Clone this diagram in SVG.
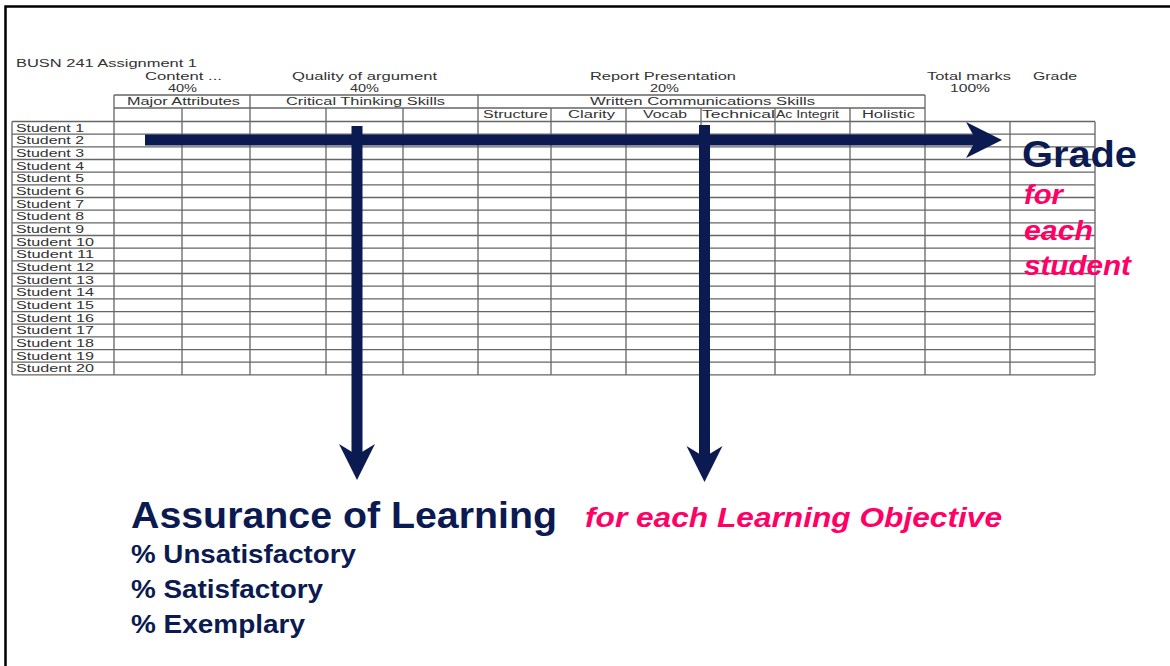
<svg xmlns="http://www.w3.org/2000/svg" width="1170" height="666" viewBox="0 0 1170 666">
<style>
.t{font-family:"Liberation Sans",Arial,sans-serif;font-size:10px;fill:#333}
.grid{fill:none;stroke:#666;stroke-width:1.3}
.navy{font-family:"Liberation Sans",Arial,sans-serif;font-weight:bold;fill:#0b1a50}
.pink{font-family:"Liberation Sans",Arial,sans-serif;font-weight:bold;font-style:italic;fill:#ff0066}
.arrow{fill:#0b1a50}
</style>
<rect width="1170" height="666" fill="#fff"/>
<path d="M5.5,666 V6.5 H1170" fill="none" stroke="#000" stroke-width="2.5"/>

<g id="table">
<path class="grid" d="M114,95 H925 M114,108 H925
M12,121.5 H1095 M12,134.2 H1095 M12,146.8 H1095 M12,159.5 H1095 M12,172.2 H1095 M12,184.9 H1095 M12,197.5 H1095 M12,210.2 H1095 M12,222.9 H1095 M12,235.5 H1095 M12,248.2 H1095 M12,260.9 H1095 M12,273.5 H1095 M12,286.2 H1095 M12,298.9 H1095 M12,311.6 H1095 M12,324.2 H1095 M12,336.9 H1095 M12,349.6 H1095 M12,362.2 H1095 M12,374.9 H1095
M12,121.5 V374.9 M114,95 V374.9 M182,108 V374.9 M250,95 V374.9 M326,108 V374.9 M403,108 V374.9 M478,95 V374.9 M551,108 V374.9 M626,108 V374.9 M701,108 V374.9 M775,108 V374.9 M850,108 V374.9 M925,95 V374.9 M1010,121.5 V374.9 M1095,121.5 V374.9"/>
<text class="t" x="16" y="67" textLength="181" lengthAdjust="spacingAndGlyphs">BUSN 241 Assignment 1</text>
<text class="t" x="145" y="80" textLength="77" lengthAdjust="spacingAndGlyphs">Content ...</text>
<text class="t" x="168" y="92" textLength="29" lengthAdjust="spacingAndGlyphs">40%</text>
<text class="t" x="292" y="80" textLength="145" lengthAdjust="spacingAndGlyphs">Quality of argument</text>
<text class="t" x="350" y="92" textLength="29" lengthAdjust="spacingAndGlyphs">40%</text>
<text class="t" x="590" y="80" textLength="146" lengthAdjust="spacingAndGlyphs">Report Presentation</text>
<text class="t" x="650" y="92" textLength="29" lengthAdjust="spacingAndGlyphs">20%</text>
<text class="t" x="927" y="80" textLength="84" lengthAdjust="spacingAndGlyphs">Total marks</text>
<text class="t" x="1033" y="80" textLength="44" lengthAdjust="spacingAndGlyphs">Grade</text>
<text class="t" x="950" y="92" textLength="40" lengthAdjust="spacingAndGlyphs">100%</text>
<text class="t" x="127" y="105" textLength="113" lengthAdjust="spacingAndGlyphs">Major Attributes</text>
<text class="t" x="286" y="105" textLength="159" lengthAdjust="spacingAndGlyphs">Critical Thinking Skills</text>
<text class="t" x="590" y="105" textLength="225" lengthAdjust="spacingAndGlyphs">Written Communications Skills</text>
<text class="t" x="483" y="118" textLength="65" lengthAdjust="spacingAndGlyphs">Structure</text>
<text class="t" x="568" y="118" textLength="47" lengthAdjust="spacingAndGlyphs">Clarity</text>
<text class="t" x="643" y="118" textLength="44" lengthAdjust="spacingAndGlyphs">Vocab</text>
<text class="t" x="702" y="118" textLength="73" lengthAdjust="spacingAndGlyphs">Technical</text>
<text class="t" x="776" y="118" textLength="63" lengthAdjust="spacingAndGlyphs">Ac Integrit</text>
<text class="t" x="862" y="118" textLength="53" lengthAdjust="spacingAndGlyphs">Holistic</text>
<text class="t" x="16" y="131.5" textLength="68" lengthAdjust="spacingAndGlyphs">Student 1</text>
<text class="t" x="16" y="144.2" textLength="68" lengthAdjust="spacingAndGlyphs">Student 2</text>
<text class="t" x="16" y="156.8" textLength="68" lengthAdjust="spacingAndGlyphs">Student 3</text>
<text class="t" x="16" y="169.5" textLength="68" lengthAdjust="spacingAndGlyphs">Student 4</text>
<text class="t" x="16" y="182.2" textLength="68" lengthAdjust="spacingAndGlyphs">Student 5</text>
<text class="t" x="16" y="194.9" textLength="68" lengthAdjust="spacingAndGlyphs">Student 6</text>
<text class="t" x="16" y="207.5" textLength="68" lengthAdjust="spacingAndGlyphs">Student 7</text>
<text class="t" x="16" y="220.2" textLength="68" lengthAdjust="spacingAndGlyphs">Student 8</text>
<text class="t" x="16" y="232.9" textLength="68" lengthAdjust="spacingAndGlyphs">Student 9</text>
<text class="t" x="16" y="245.5" textLength="78" lengthAdjust="spacingAndGlyphs">Student 10</text>
<text class="t" x="16" y="258.2" textLength="78" lengthAdjust="spacingAndGlyphs">Student 11</text>
<text class="t" x="16" y="270.9" textLength="78" lengthAdjust="spacingAndGlyphs">Student 12</text>
<text class="t" x="16" y="283.5" textLength="78" lengthAdjust="spacingAndGlyphs">Student 13</text>
<text class="t" x="16" y="296.2" textLength="78" lengthAdjust="spacingAndGlyphs">Student 14</text>
<text class="t" x="16" y="308.9" textLength="78" lengthAdjust="spacingAndGlyphs">Student 15</text>
<text class="t" x="16" y="321.6" textLength="78" lengthAdjust="spacingAndGlyphs">Student 16</text>
<text class="t" x="16" y="334.2" textLength="78" lengthAdjust="spacingAndGlyphs">Student 17</text>
<text class="t" x="16" y="346.9" textLength="78" lengthAdjust="spacingAndGlyphs">Student 18</text>
<text class="t" x="16" y="359.6" textLength="78" lengthAdjust="spacingAndGlyphs">Student 19</text>
<text class="t" x="16" y="372.2" textLength="78" lengthAdjust="spacingAndGlyphs">Student 20</text>
</g>

<g id="connectors">
<rect class="arrow" x="145" y="134.5" width="832" height="11"/>
<polygon class="arrow" points="966,122 1002,140 966,158 976,140"/>
<rect class="arrow" x="351.5" y="126" width="11" height="330"/>
<polygon class="arrow" points="339,444 357,480 375,444 357,455"/>
<rect class="arrow" x="699" y="125" width="11" height="333"/>
<polygon class="arrow" points="686.5,446 704.5,482 722.5,446 704.5,457"/>
</g>

<g id="grade">
<text class="navy" x="1022" y="167" font-size="36" textLength="115" lengthAdjust="spacingAndGlyphs">Grade</text>
<text class="pink" x="1024" y="204" font-size="27" textLength="39" lengthAdjust="spacingAndGlyphs">for</text>
<text class="pink" x="1024" y="240" font-size="27" textLength="69" lengthAdjust="spacingAndGlyphs">each</text>
<text class="pink" x="1024" y="275" font-size="27" textLength="107" lengthAdjust="spacingAndGlyphs">student</text>
</g>

<g id="assurance">
<text class="navy" x="131" y="528" font-size="36" textLength="426" lengthAdjust="spacingAndGlyphs">Assurance of Learning</text>
<text class="pink" x="585" y="527" font-size="28" textLength="417" lengthAdjust="spacingAndGlyphs">for each Learning Objective</text>
<text class="navy" x="131" y="563" font-size="25" textLength="225" lengthAdjust="spacingAndGlyphs">% Unsatisfactory</text>
<text class="navy" x="131" y="598" font-size="25" textLength="192" lengthAdjust="spacingAndGlyphs">% Satisfactory</text>
<text class="navy" x="131" y="633" font-size="25" textLength="174" lengthAdjust="spacingAndGlyphs">% Exemplary</text>
</g>
</svg>
